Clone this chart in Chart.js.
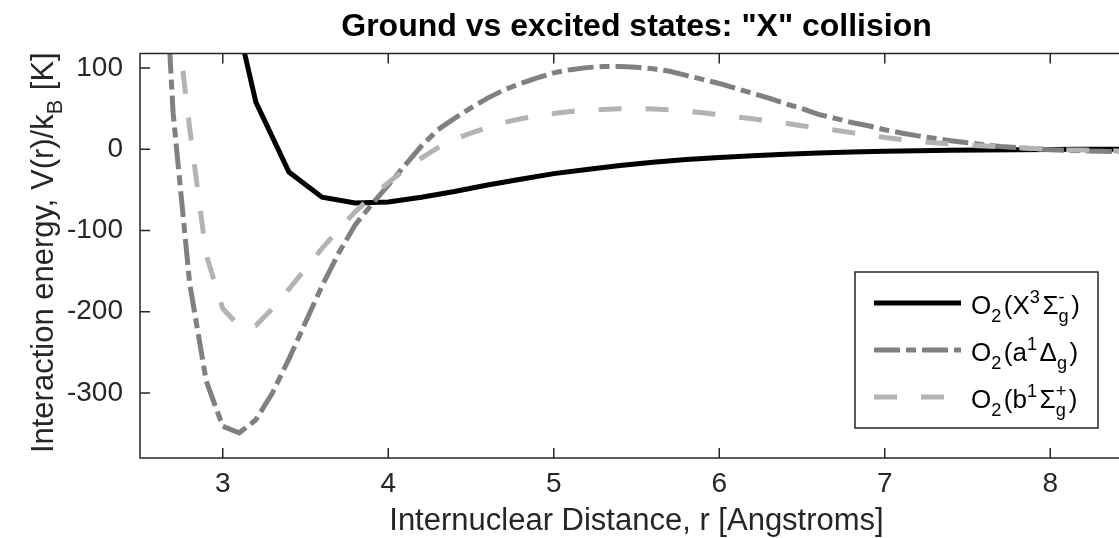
<!DOCTYPE html>
<html>
<head>
<meta charset="utf-8">
<script src="https://cdn.jsdelivr.net/npm/chart.js@4.4.0/dist/chart.umd.min.js"></script>
<style>
  html, body { margin: 0; padding: 0; background: #fff; overflow: hidden; }
  #wrap { width: 1140px; height: 538px; }
</style>
</head>
<body>
<div id="wrap"><canvas id="potChart"></canvas></div>
<script>
// ground state, sampled every 0.2 A
const rGround = [3.0, 3.2, 3.4, 3.6, 3.8, 4.0, 4.2, 4.4, 4.6, 4.8, 5.0, 5.2, 5.4, 5.6, 5.8,
                 6.0, 6.2, 6.4, 6.6, 6.8, 7.0, 7.2, 7.4, 7.6, 7.8, 8.0, 8.2, 8.4, 8.6];
const vGround = [235, 58, -28, -59, -66, -65, -59, -52, -44, -37, -30, -25, -20, -16, -12.5,
                 -10, -8, -6, -4.5, -3.5, -2.5, -1.8, -1.2, -0.8, -0.5, -0.3, -0.1, 0, 0];

// excited states, sampled every 0.1 A
const rExcited = [2.6, 2.7, 2.8, 2.9, 3.0, 3.1, 3.2, 3.3, 3.4, 3.5,
                  3.6, 3.7, 3.8, 3.9, 4.0, 4.1, 4.2, 4.3, 4.4, 4.5,
                  4.6, 4.7, 4.8, 4.9, 5.0, 5.1, 5.2, 5.3, 5.4, 5.5,
                  5.6, 5.7, 5.8, 5.9, 6.0, 6.1, 6.2, 6.3, 6.4, 6.5,
                  6.6, 6.7, 6.8, 6.9, 7.0, 7.1, 7.2, 7.3, 7.4, 7.5,
                  7.6, 7.7, 7.8, 7.9, 8.0, 8.1, 8.2, 8.3, 8.4, 8.5];
const vDelta = [420, 45, -165, -285, -341, -349, -333, -300, -258, -213,
                -168, -128, -93, -68, -44, -20, 4, 24, 38, 51,
                63, 73, 81, 88, 94, 98, 100.5, 102, 102, 101,
                99, 96, 91, 86, 81, 75, 69, 63, 56, 50,
                43, 38, 33, 29, 24, 20, 16.5, 13.5, 10.5, 8,
                5.5, 3.5, 2, 0.5, -0.5, -1.5, -2, -2.5, -3, -3];
const vSigma = [500, 198, 26, -130, -196, -218, -217, -196, -172, -147,
                -122, -99, -77, -58, -41, -25, -11, 2, 12, 20,
                27, 33, 37.5, 41, 44, 46.5, 48, 49, 50, 50,
                49.5, 48.5, 47, 45, 42.5, 40, 37.5, 35, 32, 29,
                26.5, 23.5, 20.5, 17.5, 14.5, 12, 10, 8, 6.5, 5,
                4, 3, 2, 1, 0.5, -0.5, -1, -1.5, -2, -2];

const xTicks = [3, 4, 5, 6, 7, 8];
const yTicks = [-300, -200, -100, 0, 100];

// legend entries as rich text: [text, kind]
const legendLabels = [
  [['O', ''], ['2', 'sub'], ['(X', ''], ['3', 'sup'], ['\u03A3', ''], [['-', 'g'], 'stack'], [')', '']],
  [['O', ''], ['2', 'sub'], ['(a', ''], ['1', 'sup'], ['\u0394', ''], ['g', 'sub'], [')', '']],
  [['O', ''], ['2', 'sub'], ['(b', ''], ['1', 'sup'], ['\u03A3', ''], [['+', 'g'], 'stack'], [')', '']]
];
const yTitle = [['Interaction energy, V(r)/k', ''], ['B', 'sub'], [' [K]', '']];

const FONT = "'Liberation Sans', Arial, Helvetica, sans-serif";
const AXIS = '#262626';

function pairs(xs, ys) {
  return xs.map((x, i) => ({ x: x, y: ys[i] }));
}

// draws text with sub/superscripts; returns width when dry is true
function drawRich(ctx, parts, x, y, size, gap, dry) {
  const small = size * 0.7;
  let cx = x;
  ctx.textBaseline = 'alphabetic';
  ctx.textAlign = 'left';
  parts.forEach(([t, kind]) => {
    if (kind === 'stack') {
      ctx.font = small + 'px ' + FONT;
      if (!dry) {
        ctx.fillText(t[0], cx, y - size * 0.42);
        ctx.fillText(t[1], cx, y + size * 0.3);
      }
      cx += Math.max(ctx.measureText(t[0]).width, ctx.measureText(t[1]).width) + gap;
    } else {
      ctx.font = (kind ? small : size) + 'px ' + FONT;
      let dy = 0;
      if (kind === 'sub') dy = size * 0.3;
      if (kind === 'sup') dy = -size * 0.42;
      if (!dry) ctx.fillText(t, cx, y + dy);
      cx += ctx.measureText(t).width + (kind ? gap : 0);
    }
  });
  return cx - x;
}

const framePlugin = {
  id: 'matlabFrame',
  afterDatasetsDraw(chart) {
    const ctx = chart.ctx;
    const a = chart.chartArea;
    const xs = chart.scales.x, ys = chart.scales.y;
    ctx.save();
    ctx.strokeStyle = AXIS;
    ctx.lineWidth = 1.5;
    ctx.beginPath();
    ctx.moveTo(a.right, a.top);
    ctx.lineTo(a.left, a.top);
    ctx.lineTo(a.left, a.bottom);
    ctx.lineTo(a.right, a.bottom);
    xTicks.forEach(v => {
      const px = xs.getPixelForValue(v);
      ctx.moveTo(px, a.bottom); ctx.lineTo(px, a.bottom - 10);
      ctx.moveTo(px, a.top); ctx.lineTo(px, a.top + 10);
    });
    yTicks.forEach(v => {
      const py = ys.getPixelForValue(v);
      ctx.moveTo(a.left, py); ctx.lineTo(a.left + 10, py);
    });
    ctx.stroke();

    // y axis title with subscript
    ctx.fillStyle = AXIS;
    const size = 31;
    const w = drawRich(ctx, yTitle, 0, 0, size, 1, true);
    ctx.translate(53, (a.top + a.bottom) / 2 - 3);
    ctx.rotate(-Math.PI / 2);
    drawRich(ctx, yTitle, -w / 2, 0, size, 1, false);
    ctx.restore();

    // legend
    ctx.save();
    const box = { w: 243, h: 156 };
    box.left = a.right - 35 - box.w;
    box.top = a.bottom - 30 - box.h;
    ctx.fillStyle = '#fff';
    ctx.fillRect(box.left, box.top, box.w, box.h);
    ctx.strokeStyle = AXIS;
    ctx.lineWidth = 1.5;
    ctx.strokeRect(box.left, box.top, box.w, box.h);
    chart.data.datasets.forEach((ds, i) => {
      const rowY = box.top + 31 + i * 47;
      ctx.strokeStyle = ds.borderColor;
      ctx.lineWidth = ds.borderWidth;
      ctx.setLineDash(ds.borderDash || []);
      ctx.beginPath();
      ctx.moveTo(box.left + 19, rowY);
      ctx.lineTo(box.left + 106, rowY);
      ctx.stroke();
      ctx.setLineDash([]);
      ctx.fillStyle = '#000';
      drawRich(ctx, legendLabels[i], box.left + 116, rowY + 11, 26, 2.5, false);
    });
    ctx.restore();
  }
};

new Chart(document.getElementById('potChart').getContext('2d'), {
  type: 'scatter',
  data: {
    datasets: [
      { label: 'X', data: pairs(rGround, vGround), showLine: true, borderColor: '#000000',
        borderWidth: 5, pointRadius: 0, clip: 0, order: 3 },
      { label: 'a', data: pairs(rExcited, vDelta), showLine: true, borderColor: '#808080',
        borderWidth: 5, borderDash: [26, 6, 10, 6], pointRadius: 0, clip: 0, order: 2 },
      { label: 'b', data: pairs(rExcited, vSigma), showLine: true, borderColor: '#b3b3b3',
        borderWidth: 5, borderDash: [23, 24], pointRadius: 0, clip: 0, order: 1 }
    ]
  },
  options: {
    responsive: true,
    maintainAspectRatio: false,
    animation: false,
    layout: { padding: { left: 0, right: 7, top: 0, bottom: 0 } },
    plugins: {
      legend: { display: false },
      tooltip: { enabled: false },
      title: {
        display: true,
        text: 'Ground vs excited states: "X" collision',
        fullSize: false,
        color: '#000',
        font: { family: FONT, size: 32, weight: 'bold', lineHeight: 1.2 },
        padding: { top: 8, bottom: 7 }
      }
    },
    scales: {
      x: {
        type: 'linear', min: 2.5, max: 8.5,
        grid: { display: false, drawTicks: false },
        border: { display: false },
        afterBuildTicks: s => { s.ticks = xTicks.map(v => ({ value: v })); },
        afterFit: s => { s.height = 80; },
        ticks: { padding: 9.5, color: AXIS, font: { family: FONT, size: 28 } },
        title: {
          display: true, text: 'Internuclear Distance, r [Angstroms]', color: AXIS,
          font: { family: FONT, size: 31, lineHeight: 1 }, padding: { top: 0, bottom: 1.5 }
        }
      },
      y: {
        type: 'linear', min: -380, max: 118,
        grid: { display: false, drawTicks: false },
        border: { display: false },
        afterBuildTicks: s => { s.ticks = yTicks.map(v => ({ value: v })); },
        afterFit: s => { s.width = 140; },
        ticks: { padding: 17, color: AXIS, font: { family: FONT, size: 28 } }
      }
    }
  },
  plugins: [framePlugin]
});
</script>
</body>
</html>
